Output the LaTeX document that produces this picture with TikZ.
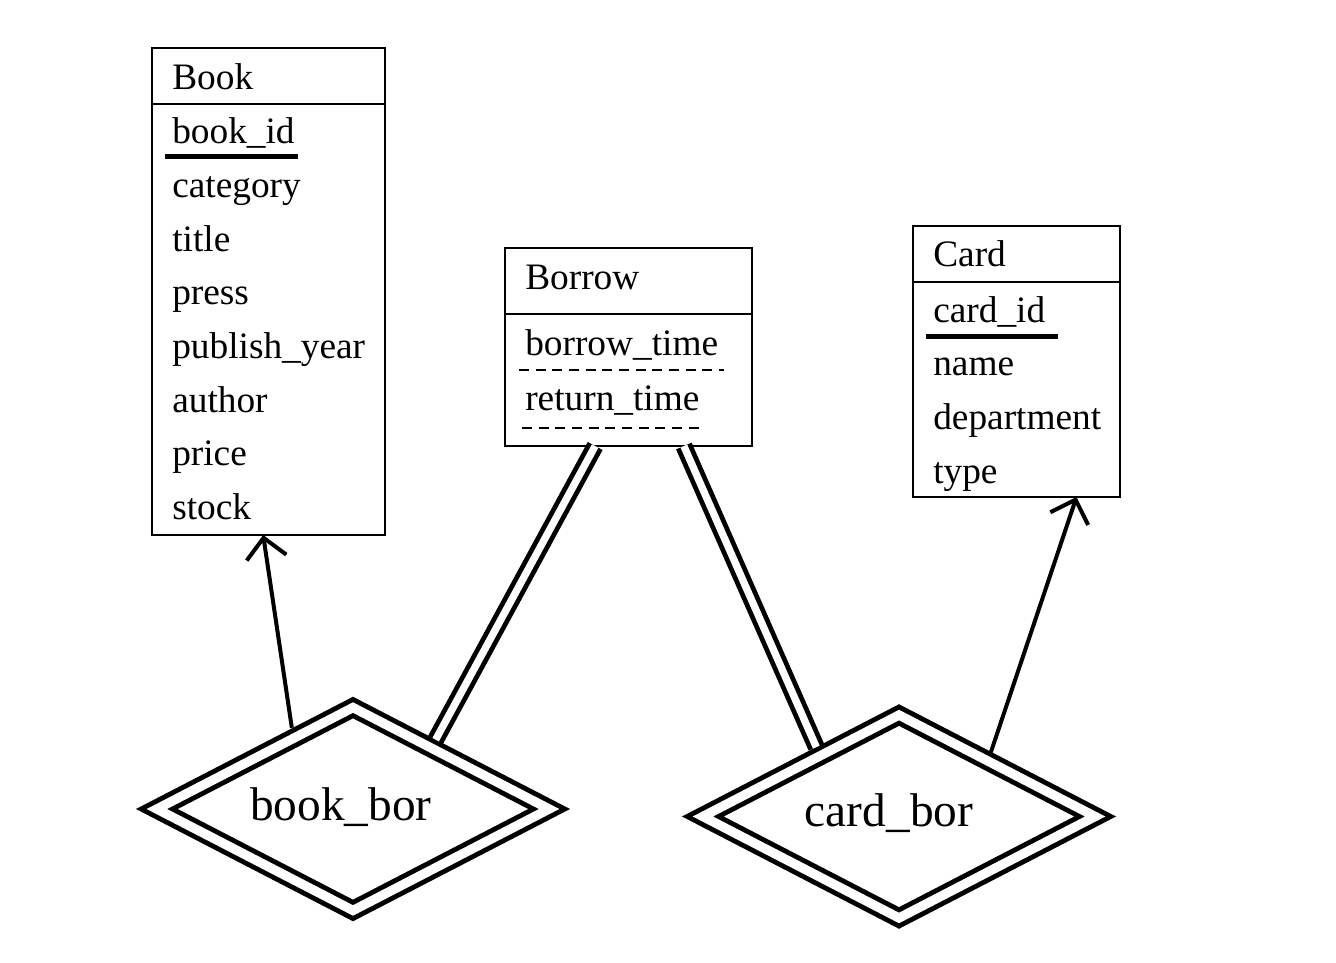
\documentclass[tikz,border=0pt]{standalone}
\usepackage{fontspec}
\setmainfont{Liberation Serif}
\usetikzlibrary{shapes.geometric,arrows.meta,calc}

\begin{document}
\begin{tikzpicture}[x=0.75pt,y=-0.75pt,
        entity/.style={draw,line width=1.5pt,inner sep=0pt,outer sep=0pt},
        field/.style={anchor=base west,inner sep=0pt,font=\fontsize{28}{34}\selectfont},
        keyline/.style={line width=3.75pt},
        partline/.style={line width=1.5pt,dash pattern=on 7.5pt off 5pt},
        weakrel/.style={diamond,draw,double,line width=3.7pt,double distance=7pt,aspect=1.9,
            minimum width=300pt,minimum height=158pt,inner sep=0pt,outer sep=7pt},
        rellabel/.style={inner sep=0pt,font=\fontsize{35.5}{40}\selectfont},
        onearrow/.style={line width=3pt,-{Straight Barb[length=15pt,width=30pt]}},
        total/.style={double,line width=3.6pt,double distance=5.5pt}]

            \useasboundingbox (0,0) rectangle (1336,963);

            % Book
            \node[entity,minimum width=174.75pt,minimum height=365.25pt] (book) at (268.5,291.5) {};
            \draw[line width=1.5pt] ($(book.north west)+(0,56)$) -- ($(book.north east)+(0,56)$);
            \node[field] (book-name) at (172,90) {Book};
            \foreach \txt [count=\i from 0] in {book\_id,category,title,press,publish\_year,author,price,stock}
                \node[field] (book-\i) at (172,144+53.6*\i) {\txt};
            \draw[keyline] ($(book-0.base west)+(-7,13)$) -- ++(133,0);

            % Borrow
            \node[entity,minimum width=185.25pt,minimum height=148.5pt] (borrow) at (628.5,347) {};
            \draw[line width=1.5pt] ($(borrow.north west)+(0,66)$) -- ($(borrow.north east)+(0,66)$);
            \node[field] (borrow-name) at (525,290) {Borrow};
            \node[field] (borrow-0) at (525,355) {borrow\_time};
            \node[field] (borrow-1) at (525,410) {return\_time};
            \draw[partline] ($(borrow-0.base west)+(-6,15)$) -- ++(205,0);
            \draw[partline] ($(borrow-1.base west)+(-3,18)$) -- ++(181,0);

            % Card
            \node[entity,minimum width=155.25pt,minimum height=203.25pt] (card) at (1016.5,361.5) {};
            \draw[line width=1.5pt] ($(card.north west)+(0,56)$) -- ($(card.north east)+(0,56)$);
            \node[field] (card-name) at (933,267) {Card};
            \foreach \txt [count=\i from 0] in {card\_id,name,department,type}
                \node[field] (card-\i) at (933,322+53.7*\i) {\txt};
            \draw[keyline] ($(card-0.base west)+(-7,14)$) -- ++(132,0);

            % relationships
            \node[weakrel] (bookbor) at (353,809) {};
            \node[rellabel] (bookbor-name) at (341,807) {book\_bor};
            \node[weakrel] (cardbor) at (899,816.5) {};
            \node[rellabel] (cardbor-name) at (889,813) {card\_bor};

            \draw[onearrow] (bookbor.127) -- ([xshift=-4pt]book.south);
            \draw[onearrow] (cardbor.35) -- ([xshift=45pt]card.south);
            \draw[total] ([xshift=-25pt]borrow.south) -- (bookbor.40);
            \draw[total] ([xshift=41.5pt]borrow.south) -- (cardbor.140);
        \end{tikzpicture}
\end{document}
